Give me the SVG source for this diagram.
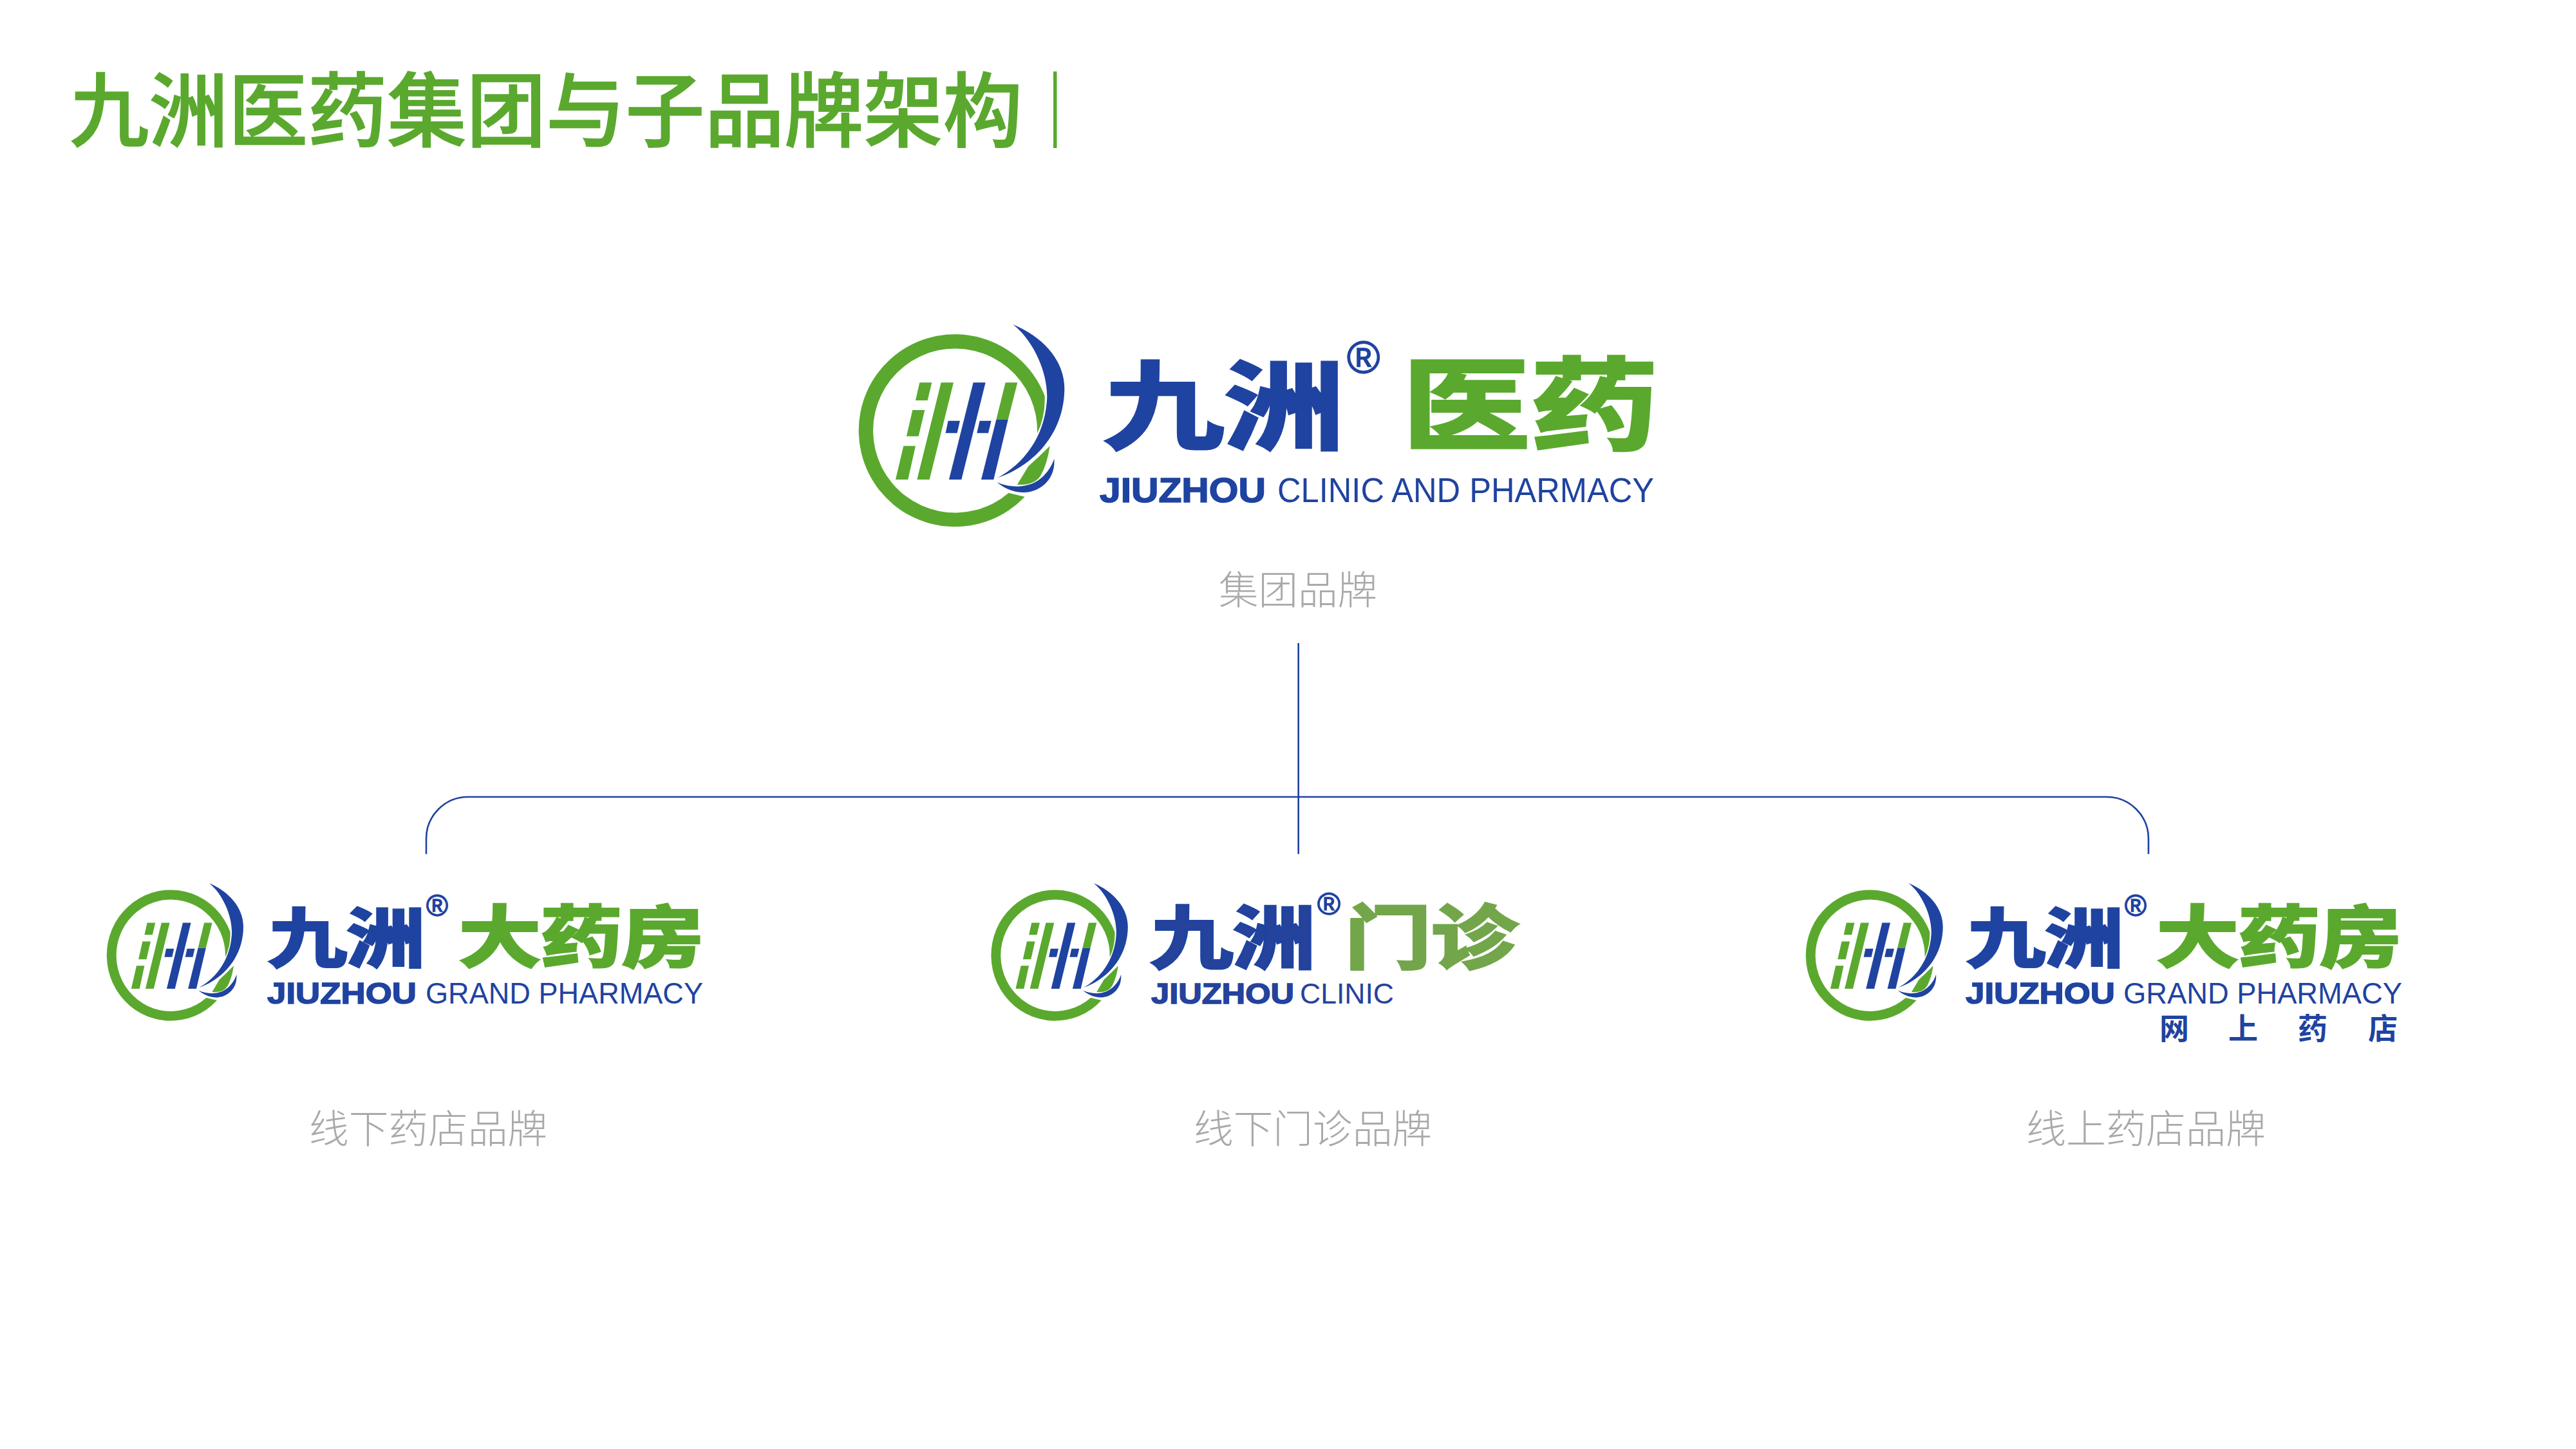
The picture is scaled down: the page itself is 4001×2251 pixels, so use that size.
<svg xmlns="http://www.w3.org/2000/svg" width="4001" height="2251" viewBox="0 0 4001 2251">
<style>
text{font-family:"Noto Sans CJK SC","Noto Sans",sans-serif}
.g{fill:#5aa92e}.b{fill:#1f43a0}.lg{fill:#73a64a}.b2{fill:#27429b}
.heavy{font-weight:700;stroke-width:4}
.heavy.b,.heavy.b2{stroke:#1f43a0}.heavy.g{stroke:#5aa92e}.heavy.lg{stroke:#73a64a}
.en{font-family:"Liberation Sans",Arial,sans-serif}
.enb{font-family:"Liberation Sans",Arial,sans-serif;font-weight:700;stroke:#1f43a0;stroke-width:1.5}
.reg{stroke:#1f43a0;stroke-width:1.5;font-family:"Liberation Sans",Arial,sans-serif}
.cap{fill:#a9a9a9;font-size:61px;font-weight:300}
.conn{fill:none;stroke:#1f43a0;stroke-width:2.6}
</style>
<defs>
<g id="mark">
<path class="g" d="M908 375A448.5 448.5 0 1 0 815 845L740 827A382.5 382.5 0 1 1 873 550Q912 470 908 375Z"/>
<path class="g" d="M325 313H382L362 396H306ZM292 441H349L320 563H264ZM250 608H306L271 765H213ZM425 313H483L371 765H313ZM725 313H781L737 486H682Z"/>
<path class="b" d="M575 313H632L520 765H462ZM682 486H737L670 765H612ZM458 491H513L500 548H446ZM605 491H659L645 548H592Z"/>
<path class="b" d="M760 42C900 100 1000 210 1000 340C1000 530 880 690 690 757C810 690 905 570 918 400C928 280 860 120 760 42Z"/>
<path class="g" d="M932 608Q880 660 832 703L780 788Q860 795 890 745Q920 690 932 608Z"/>
<path class="b" d="M952 668C960 770 880 825 810 825C760 825 720 805 685 778C740 800 790 802 830 790C890 775 935 720 952 668Z"/>
</g>
</defs>
<rect width="4001" height="2251" fill="#fff"/>
<g id="title">
<text class="g" x="108" y="218" font-size="126" font-weight="500" stroke="#5aa92e" stroke-width="1.5" textLength="1480" lengthAdjust="spacingAndGlyphs">九洲医药集团与子品牌架构</text>
<rect class="g" x="1636" y="111" width="5.5" height="119"/>
</g>
<g id="connectors">
<path class="conn" d="M2016.7 999V1326.7"/>
<path class="conn" d="M662 1326.7V1303A65 65 0 0 1 727 1238H3272A65 65 0 0 1 3337 1303V1326.7"/>
</g>
<g id="node-group">
<use href="#mark" transform="translate(1320 490) scale(.3333)"/>
<text class="b heavy" x="1714" y="686" font-size="150" textLength="374" lengthAdjust="spacingAndGlyphs">九洲</text>
<text class="reg b" x="2092" y="579" font-size="70">®</text>
<text class="g heavy" x="2178" y="686" font-size="156" textLength="398" lengthAdjust="spacingAndGlyphs">医药</text>
<text class="enb b" x="1708" y="780" font-size="53" textLength="258" lengthAdjust="spacingAndGlyphs">JIUZHOU</text>
<text class="en b" x="1984" y="780" font-size="53" textLength="585" lengthAdjust="spacingAndGlyphs">CLINIC AND PHARMACY</text>
<text class="cap" x="1893" y="939" textLength="246" lengthAdjust="spacingAndGlyphs">集团品牌</text>
</g>
<g id="node-offline-pharmacy">
<use href="#mark" transform="translate(156.7 1362.5) scale(.2213 .2267)"/>
<text class="b heavy" x="417" y="1494" font-size="100" textLength="243" lengthAdjust="spacingAndGlyphs">九洲</text>
<text class="reg b" x="662" y="1423" font-size="46">®</text>
<text class="g heavy" x="713" y="1494" font-size="104" textLength="380" lengthAdjust="spacingAndGlyphs">大药房</text>
<text class="enb b" x="415" y="1559" font-size="46" textLength="232" lengthAdjust="spacingAndGlyphs">JIUZHOU</text>
<text class="en b" x="661" y="1559" font-size="46" textLength="431" lengthAdjust="spacingAndGlyphs">GRAND PHARMACY</text>
<text class="cap" x="480" y="1776" textLength="370" lengthAdjust="spacingAndGlyphs">线下药店品牌</text>
</g>
<g id="node-offline-clinic">
<use href="#mark" transform="translate(1530.3 1362.5) scale(.2215 .2267)"/>
<text class="b2 heavy" x="1787" y="1496" font-size="107" textLength="256" lengthAdjust="spacingAndGlyphs">九洲</text>
<text class="reg b2" x="2046" y="1421" font-size="49">®</text>
<text class="lg heavy" x="2089" y="1496" font-size="108" textLength="268" lengthAdjust="spacingAndGlyphs">门诊</text>
<text class="enb b2" x="1788" y="1559" font-size="45" textLength="222" lengthAdjust="spacingAndGlyphs">JIUZHOU</text>
<text class="en b2" x="2019" y="1559" font-size="45" textLength="146" lengthAdjust="spacingAndGlyphs">CLINIC</text>
<text class="cap" x="1854" y="1776" textLength="370" lengthAdjust="spacingAndGlyphs">线下门诊品牌</text>
</g>
<g id="node-online-pharmacy">
<use href="#mark" transform="translate(2795.6 1362.5) scale(.2221 .2267)"/>
<text class="b heavy" x="3055" y="1494" font-size="100" textLength="243" lengthAdjust="spacingAndGlyphs">九洲</text>
<text class="reg b" x="3300" y="1423" font-size="46">®</text>
<text class="g heavy" x="3350" y="1494" font-size="104" textLength="380" lengthAdjust="spacingAndGlyphs">大药房</text>
<text class="enb b" x="3053" y="1559" font-size="46" textLength="232" lengthAdjust="spacingAndGlyphs">JIUZHOU</text>
<text class="en b" x="3298" y="1559" font-size="46" textLength="433" lengthAdjust="spacingAndGlyphs">GRAND PHARMACY</text>
<text class="b" x="3354" y="1614" font-size="46" font-weight="700">网</text>
<text class="b" x="3461" y="1614" font-size="46" font-weight="700">上</text>
<text class="b" x="3569" y="1614" font-size="46" font-weight="700">药</text>
<text class="b" x="3678" y="1614" font-size="46" font-weight="700">店</text>
<text class="cap" x="3147" y="1776" textLength="372" lengthAdjust="spacingAndGlyphs">线上药店品牌</text>
</g>
</svg>
